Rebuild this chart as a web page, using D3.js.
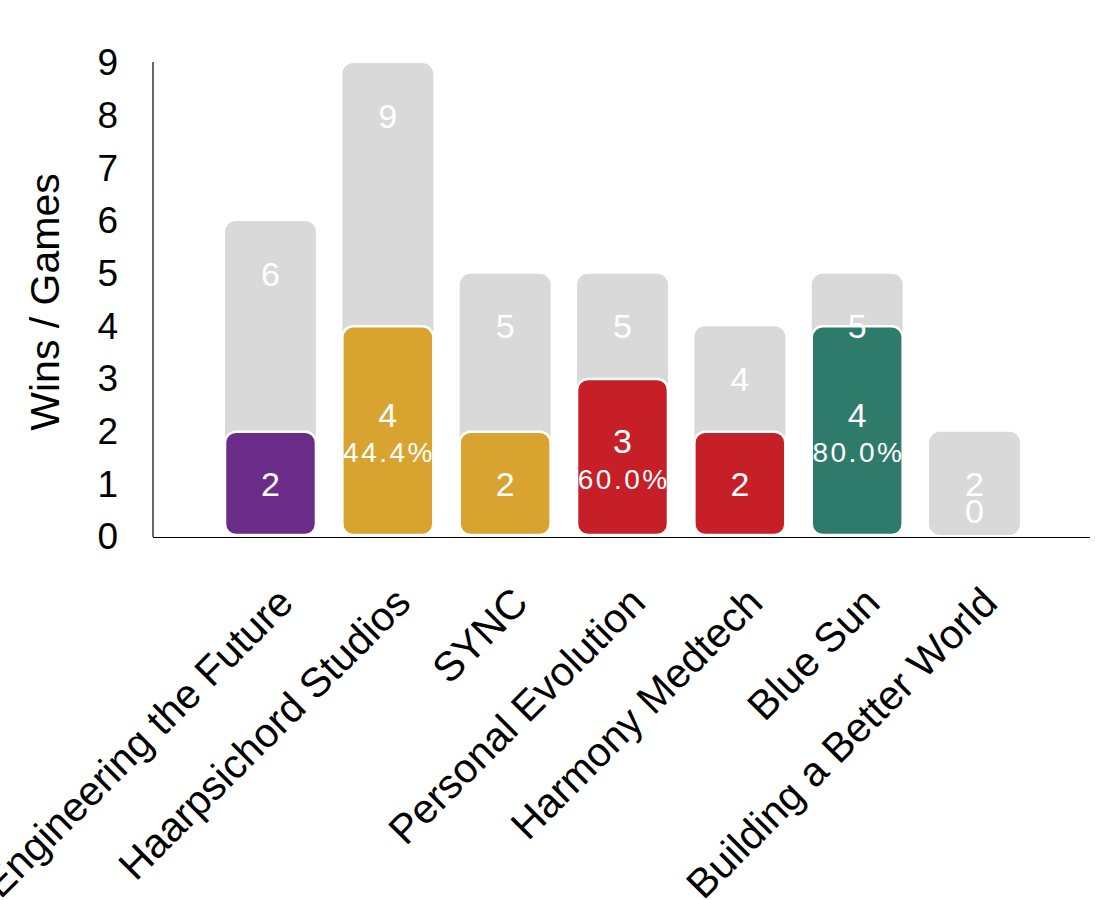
<!DOCTYPE html>
<html><head><meta charset="utf-8">
<script src="https://cdn.jsdelivr.net/npm/d3@7"></script>
<style>body{margin:0;background:#fff}svg{display:block}text{font-family:"Liberation Sans",Arial,Helvetica,sans-serif}</style>
</head><body><svg id="c" width="1095" height="900"></svg>
<script>
const teams = ["Engineering the Future","Haarpsichord Studios","SYNC","Personal Evolution","Harmony Medtech","Blue Sun","Building a Better World"];
const games = [6,9,5,5,4,5,2];
const wins = [2,4,2,3,2,4,0];
const colors = ["#6b2c89","#d8a32f","#d8a32f","#c61f27","#c61f27","#2e7a6b","#d9d9d9"];
const yTicks = [0,1,2,3,4,5,6,7,8,9];
const yLabel = "Wins / Games";

const svg = d3.select("#c");
const x = d3.scaleBand().domain(teams).range([225,1020]).paddingInner(0.225).paddingOuter(0);
const y = d3.scaleLinear().domain([0,9]).range([537,63]);
const data = teams.map((t,i)=>({t,g:games[i],w:wins[i],c:colors[i]}));

// axes
svg.append("line").attr("x1",153).attr("x2",153).attr("y1",y(9)-1).attr("y2",y(0)).attr("stroke","#000").attr("stroke-width",1.2);
svg.append("line").attr("x1",153).attr("x2",1090).attr("y1",y(0)+0.5).attr("y2",y(0)+0.5).attr("stroke","#000").attr("stroke-width",1.2);

const yAxis = svg.append("g").attr("transform","translate(153,0)")
  .call(d3.axisLeft(y).tickValues(yTicks).tickSize(0).tickPadding(35).tickFormat(d3.format("d")));
yAxis.select(".domain").remove();
yAxis.selectAll("text").attr("font-size",37).attr("font-family","Liberation Sans, Arial, sans-serif").attr("fill","#000");

svg.append("text").attr("transform",`translate(59,${y(4.5)+2}) rotate(-90)`).attr("text-anchor","middle")
  .attr("font-size",41).attr("fill","#000").text(yLabel);

// x labels
svg.selectAll(".xl").data(data).join("text").attr("class","xl")
  .attr("transform",d=>`translate(${x(d.t)+x.bandwidth()/2+25},${y(0)+68}) rotate(-45)`)
  .attr("text-anchor","end").attr("font-size",41).attr("fill","#000").text(d=>d.t);

// gray total bars
svg.selectAll(".gb").data(data).join("rect").attr("class","gb")
  .attr("x",d=>x(d.t)).attr("width",x.bandwidth())
  .attr("y",d=>y(d.g)).attr("height",d=>y(0)-y(d.g)-2)
  .attr("rx",11).attr("fill","#d9d9d9");

// win bars
svg.selectAll(".wb").data(data.filter(d=>d.w>0)).join("rect").attr("class","wb")
  .attr("x",d=>x(d.t)).attr("width",x.bandwidth())
  .attr("y",d=>y(d.w)).attr("height",d=>y(0)-y(d.w)-2)
  .attr("rx",11).attr("fill",d=>d.c).attr("stroke","#fff").attr("stroke-width",2.5);

// total labels
svg.selectAll(".gl").data(data).join("text").attr("class","gl")
  .attr("x",d=>x(d.t)+x.bandwidth()/2).attr("y",d=>y(d.g-1))
  .attr("text-anchor","middle").attr("dominant-baseline","central")
  .attr("font-size",34).attr("fill","#fff").text(d=>d.g);

// win labels
svg.selectAll(".wl").data(data).join("text").attr("class","wl")
  .attr("x",d=>x(d.t)+x.bandwidth()/2)
  .attr("y",d=>d.w>=3 ? y(d.w/2)-17 : y(Math.max(d.w/2,0.5)))
  .attr("text-anchor","middle").attr("dominant-baseline","central")
  .attr("font-size",34).attr("fill","#fff").text(d=>d.w);

svg.selectAll(".pl").data(data.filter(d=>d.w>=3)).join("text").attr("class","pl")
  .attr("x",d=>x(d.t)+x.bandwidth()/2+1.25).attr("y",d=>y(d.w/2)+21)
  .attr("text-anchor","middle").attr("dominant-baseline","central")
  .attr("font-size",28).attr("letter-spacing","2.5px").attr("fill","#fff")
  .text(d=>d3.format(".1f")(d.w/d.g*100)+"%");
</script></body></html>
